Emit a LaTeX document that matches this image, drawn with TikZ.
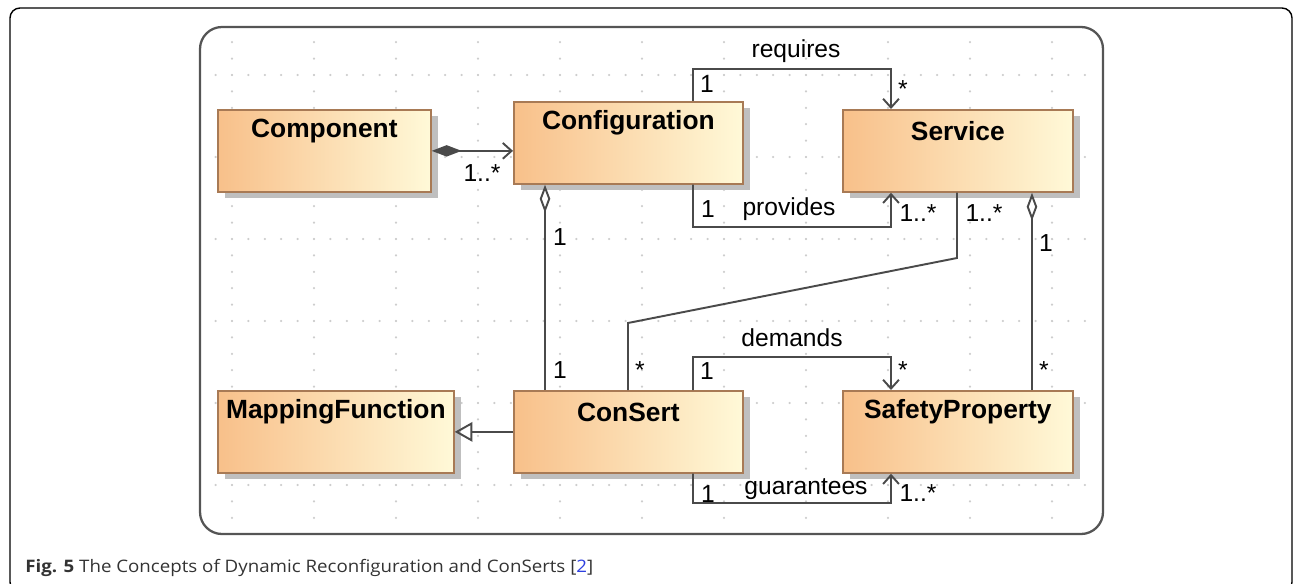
\documentclass[tikz,border=0pt]{standalone}
\usepackage{fontspec}
\setsansfont{Liberation Sans}
\newfontfamily\captionfont{Open Sans}
\usepackage{graphicx}
\usetikzlibrary{arrows.meta,positioning,shadows}
\definecolor{boxorange}{HTML}{F8C08A}
\definecolor{boxcream}{HTML}{FFF9D8}
\definecolor{boxborder}{HTML}{A87A55}
\definecolor{linkgray}{HTML}{4A4A4A}
\definecolor{framegray}{HTML}{555555}
\definecolor{griddot}{HTML}{CDCDCD}
\definecolor{captext}{HTML}{333333}
\definecolor{refblue}{HTML}{2D3FE0}

\begin{document}
\begin{tikzpicture}[
  x=0.02cm, y=-0.02cm,
  font=\sffamily,
  classbox/.style={
    draw=boxborder,
    line width=1pt,
    left color=boxorange,
    right color=boxcream,
    minimum height=1.64cm,
    anchor=north west,
    inner sep=0pt,
    drop shadow={shadow xshift=0.14cm, shadow yshift=-0.12cm, fill=black!25, opacity=1}
  },
  classname/.style={
    font=\sffamily\bfseries\fontsize{15}{18}\selectfont,
    anchor=center,
    yshift=-0.44cm
  },
  assoc/.style={
    draw=linkgray,
    line width=1.1pt
  },
  navarrow/.style={
    assoc,
    -{Straight Barb[length=5pt,width=9pt]}
  },
  compose/.style={
    assoc,
    {Diamond[length=17pt,width=6.5pt]}-{Straight Barb[length=5pt,width=9pt]}
  },
  aggregate/.style={
    assoc,
    {Diamond[open,length=16pt,width=6pt]}-
  },
  generalize/.style={
    assoc,
    -{Triangle[open,length=10pt,width=11pt]}
  },
  multlabel/.style={
    font=\sffamily\fontsize{14}{16}\selectfont,
    inner sep=0pt
  }
]

  \useasboundingbox (0,0) rectangle (1293,584);

  % =========================================================================
  % FRAMES AND GRID
  % =========================================================================
  \draw[line width=0.8pt, rounded corners=0.2cm] (10,8) rectangle (1292,592);
  \foreach \gx in {232,314,...,1052}
    \foreach \gy in {42.2,58.6,...,526}
      \fill[griddot] (\gx,\gy) circle (0.7pt);
  \foreach \gy in {75,157,...,485}
    \foreach \gx in {215.6,232,...,1094}
      \fill[griddot] (\gx,\gy) circle (0.7pt);
  \draw[draw=framegray, line width=1.3pt, rounded corners=0.44cm] (200,27) rectangle (1103,534);

  % =========================================================================
  % CLASSES
  % =========================================================================
  \node[classbox, minimum width=4.26cm, label={[classname]north:Component}] (comp) at (217,109) {};
  \node[classbox, minimum width=4.58cm, label={[classname]north:Configuration}] (conf) at (513,101) {};
  \node[classbox, minimum width=4.60cm, label={[classname]north:Service}] (serv) at (842,109) {};
  \node[classbox, minimum width=4.72cm, label={[classname]north:MappingFunction}] (map) at (217,390) {};
  \node[classbox, minimum width=4.58cm, label={[classname]north:ConSert}] (cons) at (513,390) {};
  \node[classbox, minimum width=4.60cm, label={[classname]north:SafetyProperty}] (safe) at (842,390) {};

  % =========================================================================
  % ASSOCIATIONS
  % =========================================================================
  \draw[compose] (comp.east) -- (comp.east -| conf.west);
  \draw[navarrow] ([xshift=3.6cm]conf.north west) |- (891,69) -- ([xshift=0.98cm]serv.north west);
  \draw[navarrow] ([xshift=3.6cm]conf.south west) |- (891,227) -- ([xshift=0.98cm]serv.south west);
  \draw[aggregate] ([xshift=0.64cm]conf.south west) -- ([xshift=0.64cm]cons.north west);
  \draw[aggregate] ([xshift=3.8cm]serv.south west) -- ([xshift=3.8cm]safe.north west);
  \draw[assoc] ([xshift=2.3cm]serv.south west) -- (957,258) -- (628,323) -- ([xshift=2.3cm]cons.north west);
  \draw[generalize] (cons.west) -- (cons.west -| map.east);
  \draw[navarrow] ([xshift=3.6cm]cons.north west) |- (891,357) -- ([xshift=0.98cm]safe.north west);
  \draw[navarrow] ([xshift=3.6cm]cons.south west) |- (891,503) -- ([xshift=0.98cm]safe.south west);

  % role names and multiplicities
  \node[multlabel] (l_req) at (796,51) {requires};
  \node[multlabel] (l_prov) at (789,209) {provides};
  \node[multlabel] (l_dem) at (792,338) {demands};
  \node[multlabel] (l_guar) at (806,489) {guarantees};

  \node[multlabel] (m_comp) at (482,173) {1..*};
  \node[multlabel] (m_req1) at (707,84) {1};
  \node[multlabel] (m_req2) at (903,89) {*};
  \node[multlabel] (m_prov1) at (708,209) {1};
  \node[multlabel] (m_prov2) at (918,213) {1..*};
  \node[multlabel] (m_sc1) at (984,213) {1..*};
  \node[multlabel] (m_sagg) at (1046,243) {1};
  \node[multlabel] (m_cagg) at (560,237) {1};
  \node[multlabel] (m_cons1) at (560,370) {1};
  \node[multlabel] (m_sc2) at (640,370) {*};
  \node[multlabel] (m_dem1) at (707,371) {1};
  \node[multlabel] (m_dem2) at (903,370) {*};
  \node[multlabel] (m_safe) at (1044,370) {*};
  \node[multlabel] (m_guar1) at (708,494) {1};
  \node[multlabel] (m_guar2) at (918,493) {1..*};

  % =========================================================================
  % CAPTION
  % =========================================================================
  \node[anchor=base west, inner sep=0pt, text=captext] (caption) at (25,572)
    {\resizebox{11.36cm}{\height}{\captionfont\fontsize{9.8}{12}\selectfont\textbf{Fig. 5} The Concepts of Dynamic Reconfiguration and ConSerts [{\color{refblue}2}]}};

\end{tikzpicture}
\end{document}
